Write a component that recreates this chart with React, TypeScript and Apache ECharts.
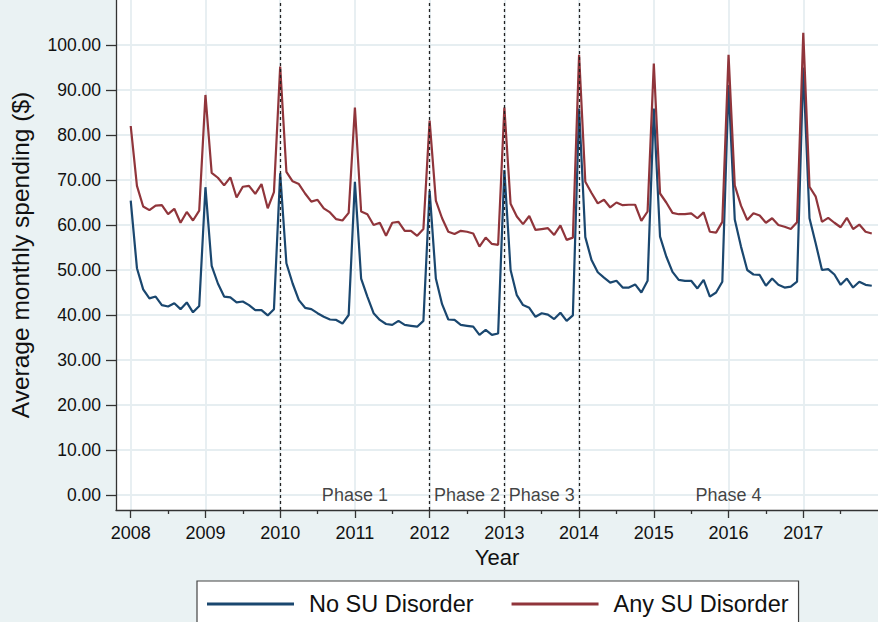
import React, { useEffect, useRef } from "react";
import * as echarts from "echarts";

const startYear = 2008;
const years = [2008, 2009, 2010, 2011, 2012, 2013, 2014, 2015, 2016, 2017];
const halfYears = [2008.5, 2009.5, 2010.5, 2011.5, 2012.5, 2013.5, 2014.5, 2015.5, 2016.5, 2017.5];
const yTicks = [0, 10, 20, 30, 40, 50, 60, 70, 80, 90, 100];

const noSU = [
  65.4, 50.4, 45.7, 43.7, 44.1, 42.2, 41.9, 42.6, 41.3, 42.8, 40.6, 42.0,
  68.4, 50.9, 47.0, 44.1, 43.9, 42.8, 43.0, 42.2, 41.1, 41.1, 39.9, 41.3,
  71.5, 51.5, 47.0, 43.3, 41.6, 41.3, 40.4, 39.6, 39.0, 38.9, 38.1, 40.0,
  69.6, 48.1, 44.1, 40.4, 38.9, 38.0, 37.8, 38.7, 37.8, 37.6, 37.4, 38.7,
  67.6, 48.1, 42.4, 39.0, 38.9, 37.8, 37.6, 37.4, 35.6, 36.7, 35.6, 35.9,
  72.2, 50.0, 44.4, 42.2, 41.6, 39.6, 40.4, 40.1, 39.1, 40.5, 38.7, 39.9,
  85.9, 57.3, 52.2, 49.5, 48.3, 47.2, 47.6, 46.1, 46.1, 46.8, 45.0, 47.6,
  85.9, 57.4, 53.0, 49.6, 47.8, 47.6, 47.6, 45.9, 47.8, 44.1, 45.0, 47.4,
  91.1, 61.2, 55.2, 50.0, 49.0, 48.9, 46.5, 48.1, 46.7, 46.1, 46.3, 47.4,
  95.0, 61.5, 55.9, 50.0, 50.2, 49.0, 46.7, 48.1, 46.1, 47.4, 46.7, 46.5,
];

const anySU = [
  82.0, 68.7, 64.1, 63.3, 64.3, 64.4, 62.4, 63.6, 60.5, 62.9, 61.0, 63.2,
  88.9, 71.6, 70.5, 68.8, 70.6, 66.1, 68.5, 68.7, 66.9, 69.1, 63.7, 67.3,
  95.2, 71.8, 69.7, 69.1, 67.0, 65.2, 65.6, 63.7, 62.8, 61.3, 61.0, 62.7,
  86.1, 63.0, 62.4, 60.0, 60.5, 57.6, 60.5, 60.7, 58.7, 58.7, 57.6, 59.1,
  83.2, 65.4, 61.5, 58.5, 58.0, 58.7, 58.5, 58.1, 55.2, 57.2, 55.8, 55.6,
  86.1, 64.7, 61.9, 60.2, 62.0, 58.9, 59.1, 59.3, 57.8, 59.9, 56.7, 57.2,
  97.8, 69.6, 67.1, 64.8, 65.6, 63.9, 65.0, 64.4, 64.5, 64.5, 60.9, 63.0,
  95.9, 67.0, 65.0, 62.7, 62.4, 62.4, 62.6, 61.5, 62.8, 58.5, 58.3, 60.7,
  97.8, 68.8, 64.3, 61.1, 62.6, 62.1, 60.5, 61.5, 60.0, 59.6, 59.1, 60.6,
  102.7, 68.5, 66.3, 60.7, 61.6, 60.5, 59.5, 61.6, 59.1, 60.1, 58.5, 58.1,
];

const phaseBreaks = [2010, 2012, 2013, 2014];
const phaseLabels = ["Phase 1", "Phase 2", "Phase 3", "Phase 4"];
const phaseCenters = [2011, 2012.5, 2013.5, 2016];

const FONT = "'Liberation Sans', Arial, sans-serif";
const BLUE = "#1a476f";
const RED = "#90353b";

export default function App() {
  const ref = useRef<HTMLDivElement>(null);
  useEffect(() => {
    if (!ref.current) return;
    const chart = echarts.init(ref.current, null, { renderer: "svg" });
    const toXY = (arr: number[]) => arr.map((v, i) => [startYear + i / 12, v]);
    const xMin = 2007.803;
    const xMax = 2018.0;
    chart.setOption({
      animation: false,
      backgroundColor: "#eaf2f3",
      textStyle: { fontFamily: FONT },
      grid: {
        left: 116,
        right: 0,
        top: 0,
        bottom: 112,
        show: true,
        backgroundColor: "#ffffff",
        borderWidth: 0,
      },
      xAxis: [
        {
          type: "value",
          min: xMin,
          max: xMax,
          position: "bottom",
          name: "Year",
          nameLocation: "middle",
          nameGap: 33,
          nameTextStyle: { fontSize: 22, color: "#111", fontFamily: FONT },
          axisLine: { show: true, onZero: false, lineStyle: { color: "#333", width: 1.3 } },
          axisTick: { show: true, length: 8, customValues: years, lineStyle: { color: "#333", width: 1.3 } },
          axisLabel: {
            show: true,
            customValues: years,
            margin: 14,
            fontSize: 18,
            color: "#111",
            fontFamily: FONT,
            formatter: (v: number) => String(Math.round(v)),
          },
          splitLine: { show: true, lineStyle: { color: "#e6eef1", width: 1.8 } },
          minorTick: { show: false },
        },
        {
          type: "value",
          min: xMin,
          max: xMax,
          position: "bottom",
          axisLine: { show: false, onZero: false },
          axisTick: { show: true, length: 4, customValues: halfYears, lineStyle: { color: "#333", width: 1.3 } },
          axisLabel: { show: false },
          splitLine: { show: false },
        },
      ],
      yAxis: {
        type: "value",
        min: -3.333,
        max: 110,
        name: "Average monthly spending ($)",
        nameLocation: "middle",
        nameGap: 83,
        nameTextStyle: { fontSize: 24.5, color: "#111", fontFamily: FONT },
        axisLine: { show: true, lineStyle: { color: "#333", width: 1.3 } },
        axisTick: { show: true, length: 10, customValues: yTicks, lineStyle: { color: "#333", width: 1.3 } },
        axisLabel: {
          show: true,
          customValues: yTicks,
          margin: 15,
          fontSize: 17.5,
          color: "#111",
          fontFamily: FONT,
          formatter: (v: number) => v.toFixed(2),
        },
        splitLine: { show: true, lineStyle: { color: "#e6eef1", width: 1.8 } },
      },
      legend: {
        left: 197,
        top: 581,
        padding: [11, 10, 11, 10],
        backgroundColor: "#ffffff",
        borderColor: "#444",
        borderWidth: 1.2,
        borderRadius: 0,
        itemWidth: 87,
        itemHeight: 3,
        itemGap: 38,
        data: [
          { name: "No SU Disorder", icon: "rect", itemStyle: { color: BLUE } },
          { name: "Any SU Disorder", icon: "rect", itemStyle: { color: RED } },
        ],
        textStyle: { fontSize: 23.5, color: "#111", fontFamily: FONT, padding: [0, 0, 0, 10] },
      },
      series: [
        {
          name: "No SU Disorder",
          type: "line",
          data: toXY(noSU),
          showSymbol: false,
          symbol: "none",
          lineStyle: { color: BLUE, width: 2.2 },
          itemStyle: { color: BLUE },
          z: 3,
        },
        {
          name: "Any SU Disorder",
          type: "line",
          data: toXY(anySU),
          showSymbol: false,
          symbol: "none",
          lineStyle: { color: RED, width: 2.2 },
          itemStyle: { color: RED },
          z: 4,
        },
        {
          name: "phases",
          type: "scatter",
          data: phaseCenters.map((x, i) => ({ value: [x, 0], name: phaseLabels[i] })),
          symbolSize: 0,
          silent: true,
          label: {
            show: true,
            position: "inside",
            formatter: (p: any) => p.name,
            fontSize: 18,
            color: "#111",
            fontFamily: FONT,
          },
          markLine: {
            silent: true,
            symbol: ["none", "none"],
            label: { show: false },
            lineStyle: { color: "#222", type: [3, 3], width: 1.3 },
            data: phaseBreaks.map((x) => ({ xAxis: x })),
          },
          z: 2,
        },
      ],
    });
    return () => chart.dispose();
  }, []);
  return (
    <div
      ref={ref}
      style={{ position: "fixed", left: 0, top: 0, width: 878, height: 622 }}
    />
  );
}
